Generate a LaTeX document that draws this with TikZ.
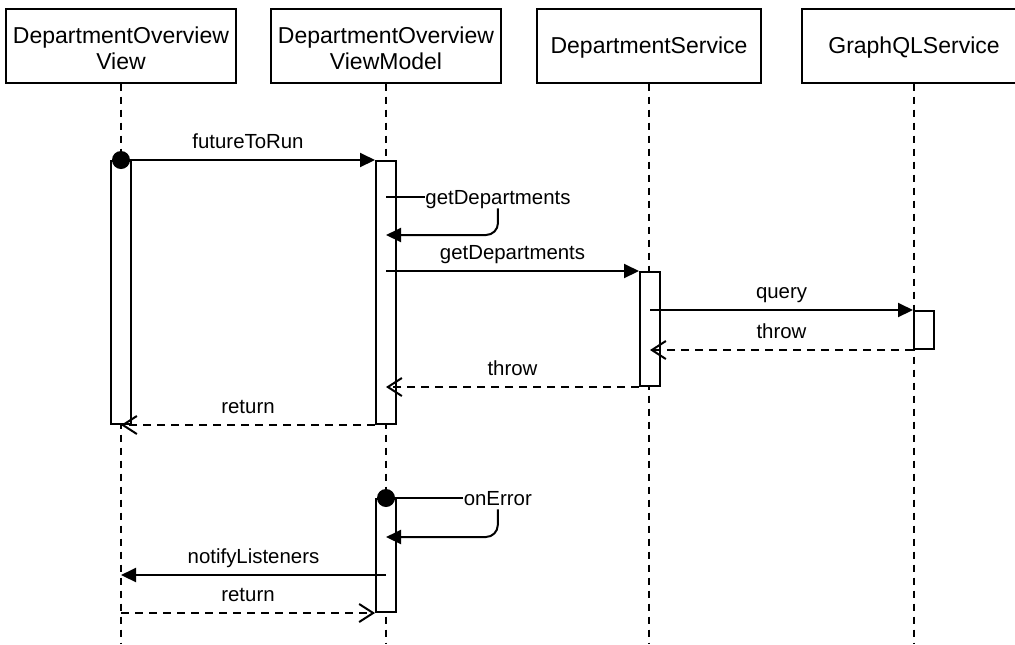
\documentclass[tikz,border=0pt]{standalone}
\usepackage{fontspec}
\setmainfont{Liberation Sans}
\usetikzlibrary{arrows.meta,positioning}
\tikzstyle{actor}=[rectangle,draw=black,line width=1pt,minimum width=112pt,minimum height=37pt,align=center,text depth=0pt,font=\fontsize{11.5}{13}\selectfont]
\tikzstyle{life}=[line width=1pt,dash pattern=on 3.5pt off 3pt]
\tikzstyle{act}=[rectangle,draw=black,fill=white,line width=1pt,minimum width=10pt,inner sep=0pt,anchor=north]
\tikzstyle{call}=[-{Triangle[length=7.5pt,width=7pt]},line width=1pt]
\tikzstyle{reply}=[-{Straight Barb[length=7pt,width=9pt]},line width=1pt,dash pattern=on 4pt off 3pt]
\tikzstyle{dot}=[circle,fill=black,inner sep=0pt,minimum size=9pt]
\tikzstyle{msg}=[font=\fontsize{10.2}{12}\selectfont,anchor=base,yshift=6pt]
\tikzstyle{selfmsg}=[font=\fontsize{10.2}{12}\selectfont,anchor=west,inner sep=0pt,text depth=0pt]

\begin{document}
\begin{tikzpicture}[x=0.5pt,y=-0.5pt]

    \clip (0,0) rectangle (1015,644);
    \coordinate (bot) at (0,644);

    % Lebenslinien
    \node[actor, text height=24pt] (view) at (121,45.5) {DepartmentOverview\\View};
    \node[actor, text height=24pt] (vm) at (386,45.5) {DepartmentOverview\\ViewModel};
    \node[actor] (ds) at (649,45.5) {DepartmentService};
    \node[actor] (gql) at (914,45.5) {GraphQLService};
    \foreach \n in {view,vm,ds,gql}
        \draw[life] (\n.south) -- (\n.south |- bot);

    % Aktivierungen
    \node[act, minimum height=131.5pt] (a1) at (121,160) {};
    \node[act, minimum height=131.5pt] (a2) at (386,160) {};
    \node[act, minimum height=57pt] (a3) at (650,271) {};
    \node[act, minimum height=19pt] (a4) at (924,310) {};
    \node[act, minimum height=56.5pt] (a5) at (386,498) {};

    % Nachrichten
    \node[dot] (d1) at (a1.north) {};
    \draw[call] (d1.center) -- node[msg] {futureToRun} (a2.north west);
    \node[selfmsg] (s1) at (425,197) {getDepartments};
    \draw[line width=1pt] (s1.west -| a2.center) -- (s1.west);
    \draw[call,rounded corners=6pt,shorten <=2pt] (s1.south) |- ([yshift=-19pt]s1.west -| a2.center);
    \draw[call] (a3.north west -| a2.center) -- node[msg] {getDepartments} (a3.north west);
    \draw[call] (a4.north west -| a3.center) -- node[msg] {query} (a4.north west);
    \draw[reply] (a4.south west) -- node[msg] {throw} (a4.south west -| a3.center);
    \draw[reply] (a3.south west) -- node[msg] {throw} (a3.south west -| a2.center);
    \draw[reply] (a2.south west) -- node[msg] {return} (a2.south west -| a1.center);

    % Fehlerfall
    \node[dot] (d2) at (a5.north) {};
    \node[selfmsg, right=34pt of d2] (s2) {onError};
    \draw[line width=1pt] (d2.center) -- (s2.west);
    \draw[call,rounded corners=6pt,shorten <=2pt] (s2.south) |- ([yshift=-19.5pt]s2.west -| a5.center);
    \draw[call] ([yshift=-38.5pt]a5.north) -- node[msg] {notifyListeners} ([yshift=-38.5pt]a5.north -| a1.center);
    \draw[reply] (a5.south -| a1.center) -- node[msg] {return} (a5.south west);

\end{tikzpicture}
\end{document}
